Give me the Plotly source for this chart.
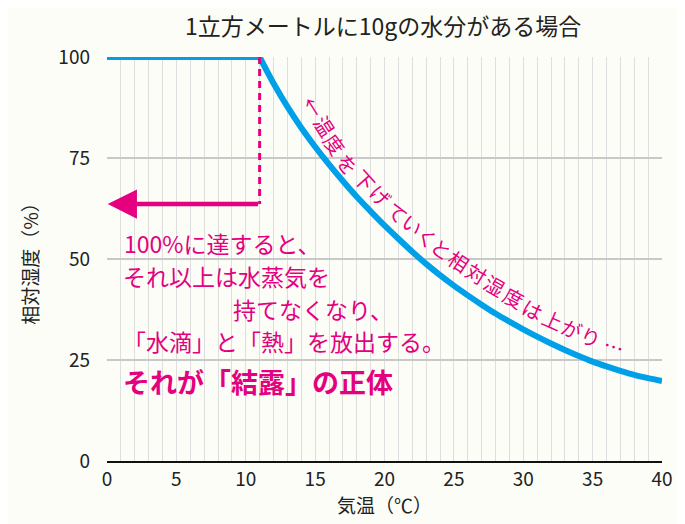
import plotly.graph_objects as go

# ---- data ----
temps = list(range(0, 41))
humidity = [100, 100, 100, 100, 100, 100, 100, 100, 100, 100, 100, 100,
            93.5, 87.7, 82.5, 77.8, 73.4, 69.3, 65.4, 61.8, 58.3, 55.0, 51.8, 48.8,
            46.0, 43.4, 41.0, 38.7, 36.5, 34.5, 32.6, 30.8, 29.1, 27.5, 26.0, 24.6,
            23.4, 22.3, 21.3, 20.5, 19.8]
x_ticks = [0, 5, 10, 15, 20, 25, 30, 35, 40]
y_ticks = [0, 25, 50, 75, 100]
dew_point = 11
arrow_level = 63.6

title_text = "1立方メートルに10gの水分がある場合"
x_title = "気温（℃）"
y_title = "相対湿度（%）"
note_lines = ["100%に達すると、", "それ以上は水蒸気を", "持てなくなり、", "「水滴」と「熱」を放出する。"]
note_bold = "それが「結露」の正体"
curve_chars = list("←温度を下げていくと相対湿度は上がり…")

PINK = "#e4007f"
BLUE = "#00a0e9"
FONT = "Noto Sans CJK JP"

# page offset of the plotly div (default body margin)
OFF = 8
# plot area in page pixels
PX0, PX1, PY0, PY1 = 107, 666, 57, 461
W, H = 685 - OFF, 524 - OFF


def px2x(px):
    return (px - PX0) / (PX1 - PX0) * 40


def py2y(py):
    return (PY1 - py) / (PY1 - PY0) * 100


split = temps.index(dew_point)
fig = go.Figure()
fig.add_trace(go.Scatter(x=temps[:split + 1], y=humidity[:split + 1], mode="lines",
                         line=dict(color=BLUE, width=6), hoverinfo="skip"))
fig.add_trace(go.Scatter(x=temps[split:], y=humidity[split:], mode="lines",
                         line=dict(color=BLUE, width=6, shape="spline", smoothing=0.8),
                         hoverinfo="skip"))

# dashed vertical line at dew point and left arrow
fig.add_shape(type="line", x0=dew_point, x1=dew_point, y0=100, y1=arrow_level,
              line=dict(color=PINK, width=3, dash="7px,5px"), layer="above")
fig.add_annotation(x=0.05, y=arrow_level, ax=dew_point, ay=arrow_level,
                   xref="x", yref="y", axref="x", ayref="y", text="",
                   showarrow=True, arrowhead=2, arrowsize=1.3, arrowwidth=4.5,
                   arrowcolor=PINK)

# title (as annotation in paper coords, centred above the plot area)
fig.add_annotation(x=px2x(385) / 40, y=py2y(25) / 100, xref="paper", yref="paper",
                   text=title_text, showarrow=False, xanchor="center", yanchor="middle",
                   font=dict(family=FONT, size=23, color="#222222"))

# note text block (left)
note_pos = [(122, 243), (121, 276), (232, 309), (121, 341)]
for (px, py), txt in zip(note_pos, note_lines):
    fig.add_annotation(x=px2x(px), y=py2y(py), xref="x", yref="y", text=txt,
                       showarrow=False, xanchor="left", yanchor="middle",
                       font=dict(family=FONT, size=23, color=PINK))
fig.add_annotation(x=px2x(121), y=py2y(381), xref="x", yref="y",
                   text="<b>" + note_bold + "</b>", showarrow=False,
                   xanchor="left", yanchor="middle",
                   font=dict(family=FONT, size=27, color=PINK))

# text that follows the curve
char_px = [(315, 106), (327, 126), (337, 144), (350, 164), (367, 180), (383, 195),
           (400, 212), (415, 224), (430, 237), (444, 248), (462, 261), (480, 273),
           (498, 285), (517, 297), (536, 309), (556, 319), (575, 328), (594, 336),
           (618, 346)]
char_ang = [58, 57, 54, 51, 48, 45, 42, 40, 38, 36, 33, 31, 30, 28, 26, 24, 22, 20, 18]
for ch, (px, py), ang in zip(curve_chars, char_px, char_ang):
    fig.add_annotation(x=px2x(px), y=py2y(py), xref="x", yref="y", text=ch,
                       showarrow=False, textangle=ang,
                       font=dict(family=FONT, size=20, color=PINK))

fig.update_layout(
    width=W, height=H,
    margin=dict(l=PX0 - OFF, r=W - (PX1 - OFF), t=PY0 - OFF, b=H - (PY1 - OFF)),
    paper_bgcolor="#fcfdf7", plot_bgcolor="#fcfdf7",
    showlegend=False,
    font=dict(family=FONT, color="#222222"),
)
fig.update_xaxes(range=[0, 40], tickvals=x_ticks, ticktext=[str(v) for v in x_ticks],
                 showgrid=True, gridcolor="#dedede", gridwidth=1,
                 minor=dict(dtick=1, showgrid=True, gridcolor="#dedede", gridwidth=1),
                 showline=True, linecolor="#111111", linewidth=2,
                 zeroline=False, ticks="", tickfont=dict(size=19, family=FONT),
                 title=dict(text=x_title, font=dict(size=19, family=FONT), standoff=2))
fig.update_yaxes(range=[0, 100], tickvals=y_ticks, ticktext=[str(v) for v in y_ticks],
                 showgrid=True, gridcolor="#c8c8c8", gridwidth=1.5,
                 zeroline=False, showline=False, ticks="",
                 ticklabelstandoff=16,
                 tickfont=dict(size=19, family=FONT),
                 title=dict(text=y_title, font=dict(size=19, family=FONT), standoff=14))

fig.write_html("out.html")
